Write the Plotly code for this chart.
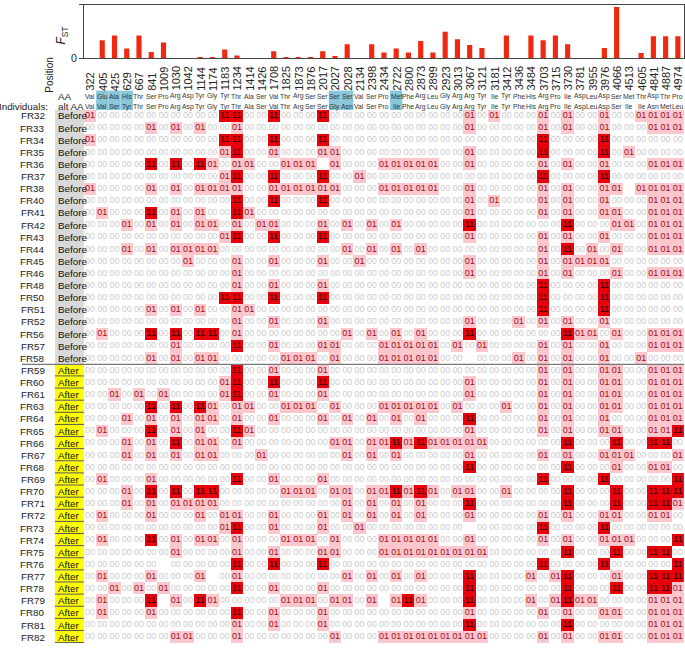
import plotly.graph_objects as go

# ---------------- data ----------------
positions = [322, 405, 425, 629, 667, 841, 1009, 1030, 1042, 1144, 1174, 1183, 1234,
             1414, 1426, 1708, 1825, 1873, 1876, 2017, 2027, 2028, 2134, 2398, 2434,
             2722, 2800, 2873, 2899, 2923, 3013, 3067, 3121, 3181, 3412, 3436, 3484,
             3703, 3715, 3730, 3781, 3955, 3976, 4066, 4513, 4605, 4841, 4887, 4974]

fst = [0.0, 0.051, 0.064, 0.028, 0.064, 0.018, 0.045, 0.001, 0.0, 0.004, 0.004, 0.025,
       0.008, 0.0, 0.0, 0.020, 0.004, 0.004, 0.004, 0.020, 0.007, 0.040, 0.0, 0.040,
       0.017, 0.028, 0.017, 0.049, 0.017, 0.075, 0.054, 0.038, 0.029, 0.0, 0.064, 0.0,
       0.064, 0.051, 0.064, 0.040, 0.0, 0.0, 0.029, 0.144, 0.0, 0.015, 0.062, 0.062, 0.062]

aa_ref = ["Val", "Glu", "Ala", "His", "Thr", "Ser", "Pro", "Arg", "Asp", "Tyr", "Gly", "Tyr",
          "Thr", "Ala", "Ser", "Val", "Thr", "Arg", "Ser", "Ser", "Ser", "Ser", "Val", "Ser",
          "Pro", "Met", "Phe", "Arg", "Leu", "Gly", "Arg", "Arg", "Tyr", "Ile", "Tyr", "Phe",
          "His", "Arg", "Pro", "Ile", "Asp", "Leu", "Asp", "Ser", "Met", "Thr", "Asp", "Thr", "Pro"]

aa_alt = ["Val", "Val", "Ser", "Tyr", "Thr", "Ser", "Pro", "Arg", "Asp", "Tyr", "Gly", "Tyr",
          "Thr", "Ala", "Ser", "Val", "Thr", "Arg", "Ser", "Ser", "Gly", "Asn", "Val", "Ser",
          "Pro", "Ile", "Phe", "Arg", "Leu", "Gly", "Arg", "Arg", "Tyr", "Ile", "Tyr", "Phe",
          "His", "Arg", "Pro", "Ile", "Asp", "Leu", "Asp", "Ser", "Ile", "Ile", "Asn", "Met", "Leu"]

highlight_positions = [405, 425, 629, 2027, 2028, 2722]

individuals_before = ["FR32", "FR33", "FR34", "FR35", "FR36", "FR37", "FR38", "FR40", "FR41",
                      "FR42", "FR43", "FR44", "FR45", "FR46", "FR48", "FR50", "FR51", "FR52",
                      "FR56", "FR57", "FR58"]
individuals_after = ["FR59", "FR60", "FR61", "FR63", "FR64", "FR65", "FR66", "FR67", "FR68",
                     "FR69", "FR70", "FR71", "FR72", "FR73", "FR74", "FR75", "FR76", "FR77",
                     "FR78", "FR79", "FR80", "FR81", "FR82"]

# genotype codes: 0 = "00", 1 = "01", 2 = "11", "." = missing
genotypes_before = [
    "1000000000" "0220020002" "0000000000" "0101000101" "001001111",  # FR32
    "0000010101" "0010000000" "0000000000" "0100000101" "001000111",  # FR33
    "1000000000" "0220020002" "0000000000" "0000000200" "002000000",  # FR34
    "0000000000" "0120010001" "1000000000" "0100000200" "002010000",  # FR35
    "0000020202" "101100111." "1000111110" "0100000101" "001000111",  # FR36
    "0000000000" "0120020002" "0010000000" "0000000200" "002000000",  # FR37
    "1000010101" "1110011111" "1000111110" "0100000101" "0011.1111",  # FR38
    "0000000000" "0020020002" "0000000000" "0101000101" "001000111",  # FR40
    "0100020101" "0021000000" "0000000000" "0100000101" "001100111",  # FR41
    "0001010101" "1010110001" "0101010000" "0200000002" "000110111",  # FR42
    "0000000000" "0120020002" "0000000000" "0100000101" "001000111",  # FR43
    "0001010111" "1000000000" "0101010100" "0000000102" "010100111",  # FR44
    "0000000010" "0010010001" "0010000000" "0100000101" "111000000",  # FR45
    "0000000000" "0010000000" "0000000000" "0100000101" "000100111",  # FR46
    "0000000000" "0010010001" "0000000000" "0000000200" "002000000",  # FR48
    "0000000000" "0220020002" "0000000000" "0000000200" "002000000",  # FR50
    "0000010101" "0011000000" "0000000000" "0000000200" "002000000",  # FR51
    "0000000000" "0010010001" "0000000000" "0100010101" "001000000",  # FR52
    "0100020202" "2010000000" "0101010100" "0200000002" "110100111",  # FR56
    "0000000100" "0020010001" "1000111110" "1010000101" "001000111",  # FR57
    "0000010101" "1000001110" "1000111110" "0.00010101" "001001000",  # FR58
]
genotypes_after = [
    "0000000000" "0020010001" "0000000000" "0000000101" "001100111",  # FR59
    "0000000000" "0120020002" "0000000000" "0100000101" "001100111",  # FR60
    "0010101000" "0120010001" "0000000000" "0100000101" "001100111",  # FR61
    "0000020202" "1011001110" "1000111110" "1000100101" "001100111",  # FR63
    "0001010101" "1010010001" "0101010100" "0200000101" "001000111",  # FR64
    "0100020101" "0021000000" "0000000000" "0100000101" "001100112",  # FR65
    "0001010201" "1010000000" "1101121211" "1110000002" "000200220",  # FR66
    "0001010101" "1000100000" "0101010000" "0100000101" "001110001",  # FR67
    "0000000000" "0000000000" "0000000000" "0200000002" "000100110",  # FR68
    "0100010000" "0020010001" "0000000000" "0000000200" "002000002",  # FR69
    "0001020202" "2000001110" "1101121210" "1100100002" "000200222",  # FR70
    "0001010111" "1000000000" "0101010100" "0200000002" "000200221",  # FR71
    "0100010001" "0110010001" "0101010100" "0100000101" "001100110",  # FR72
    "0000000000" "0120010001" "0010000000" "0.00000200" "002000000",  # FR73
    "0100020101" "1010001110" "1000111110" "0100000101" "001110002",  # FR74
    "0000000100" "0010010001" "1000111111" "1110000002" "000200220",  # FR75
    "000000.000" "0020020002" "0000000000" "0000000200" "002000002",  # FR76
    "0100010001" ".010000000" "0101010100" "0200001012" "000100222",  # FR77
    "0010101000" "0020010001" "0000000000" "0200000002" "000200221",  # FR78
    "010002.102" "1000001110" "1101.12100" "0200001012" "110000111",  # FR79
    "0100010000" "0020010001" "0000000000" "0100000101" "001100111",  # FR80
    "0000000000" "0010010001" "0000000000" "0200000002" "000000111",  # FR81
    "0000000110" "0010000000" "1000111111" "1110000101" "001100111",  # FR82
]

# ---------------- styling ----------------
W, H = 685, 650
FONT = "Liberation Sans, Arial, Helvetica, sans-serif"
BAR_RED = "#f0280f"
PINK = "#fbc6cc"
RED = "#e8000a"
BLUE = "#88c6da"
TEXT_COL = {"0": "#cccccc", "1": "#9e0f1f", "2": "#2a0000"}
TEXT_LBL = {"0": "00", "1": "01", "2": "11"}


def py(p):
    return 1 - p / H


def px(p):
    return p / W


individuals = individuals_before + individuals_after
genotypes = genotypes_before + genotypes_after
periods = ["Before"] * len(individuals_before) + ["After"] * len(individuals_after)
ncol = len(positions)
nrow = len(individuals)
cols = list(range(ncol))
rows = list(range(nrow))

z = []
tx, ty, tt, tc = [], [], [], []
for r, g in enumerate(genotypes):
    zr = []
    for c, ch in enumerate(g):
        if ch == ".":
            zr.append(None)
            continue
        zr.append(int(ch))
        tx.append(c)
        ty.append(r)
        tt.append(TEXT_LBL[ch])
        tc.append(TEXT_COL[ch])
    z.append(zr)

fig = go.Figure()

fig.add_trace(go.Bar(x=cols, y=fst, width=0.42, marker=dict(color=BAR_RED, line=dict(width=0)),
                     xaxis="x", yaxis="y", hoverinfo="skip"))

fig.add_trace(go.Heatmap(
    x=cols, y=rows, z=z, zmin=0, zmax=2, xaxis="x2", yaxis="y2",
    colorscale=[[0, "#ffffff"], [0.25, "#ffffff"], [0.25, PINK], [0.75, PINK],
                [0.75, RED], [1, RED]],
    showscale=False, hoverinfo="skip", xgap=0, ygap=0))

fig.add_trace(go.Scatter(
    x=tx, y=ty, text=tt, mode="text", xaxis="x2", yaxis="y2",
    textposition="middle center",
    textfont=dict(family=FONT, size=9, color=tc), hoverinfo="skip"))

shapes = []
ann = []

nb = len(individuals_before)
shapes.append(dict(type="rect", xref="paper", yref="y2", x0=px(55), x1=px(84),
                   y0=-0.5, y1=nb - 0.5, fillcolor="#d9d9d9", line=dict(width=0), layer="below"))
for r in range(nb, nrow):
    shapes.append(dict(type="rect", xref="paper", yref="y2", x0=px(55), x1=px(84),
                       y0=r - 0.5, y1=r + 0.5, fillcolor="#ffff00", line=dict(width=0),
                       layer="below"))
    shapes.append(dict(type="line", xref="paper", yref="y2", x0=px(55), x1=px(84),
                       y0=r + 0.45, y1=r + 0.45, line=dict(color="#555555", width=1)))
shapes.append(dict(type="line", xref="paper", yref="y2", x0=px(22), x1=1,
                   y0=nb - 0.5, y1=nb - 0.5, line=dict(color="#777777", width=1.2)))

for p in highlight_positions:
    i = positions.index(p)
    shapes.append(dict(type="rect", xref="x", yref="paper", x0=i - 0.5, x1=i + 0.5,
                       y0=py(113), y1=py(91.5), fillcolor=BLUE, line=dict(width=0),
                       layer="below"))

for i, p in enumerate(positions):
    ann.append(dict(x=i, y=py(93.5), xref="x", yref="paper", text=str(p), textangle=-90,
                    xanchor="center", yanchor="bottom", showarrow=False,
                    font=dict(family=FONT, size=11, color="#222")))
    ann.append(dict(x=i, y=py(97.3), xref="x", yref="paper", text=aa_ref[i],
                    xanchor="center", yanchor="middle", showarrow=False,
                    font=dict(family=FONT, size=6.8, color="#333")))
    ann.append(dict(x=i, y=py(107.7), xref="x", yref="paper", text=aa_alt[i],
                    xanchor="center", yanchor="middle", showarrow=False,
                    font=dict(family=FONT, size=6.8, color="#333")))

for r, name in enumerate(individuals):
    ann.append(dict(x=px(47.5), y=r, xref="paper", yref="y2", text=name, xanchor="right",
                    yanchor="middle", showarrow=False,
                    font=dict(family=FONT, size=9.8, color="#222")))
    ann.append(dict(x=px(56), y=r, xref="paper", yref="y2", text=periods[r], xanchor="left",
                    yanchor="middle", showarrow=False,
                    font=dict(family=FONT, size=9.8, color="#111")))

ann.append(dict(x=px(50), y=py(107.7), xref="paper", yref="paper", text="Individuals:",
                xanchor="right", yanchor="middle", showarrow=False,
                font=dict(family=FONT, size=9.8, color="#222")))
ann.append(dict(x=px(56), y=py(97.3), xref="paper", yref="paper", text="AA",
                xanchor="left", yanchor="middle", showarrow=False,
                font=dict(family=FONT, size=9.8, color="#222")))
ann.append(dict(x=px(56), y=py(107.7), xref="paper", yref="paper", text="alt AA",
                xanchor="left", yanchor="middle", showarrow=False,
                font=dict(family=FONT, size=9.8, color="#222")))
ann.append(dict(x=px(49.5), y=py(75), xref="paper", yref="paper", text="Position",
                textangle=-90, xanchor="center", yanchor="middle", showarrow=False,
                font=dict(family=FONT, size=10, color="#222")))
ann.append(dict(x=px(62), y=py(36), xref="paper", yref="paper",
                text="<i>F</i><sub>ST</sub>", textangle=-90, xanchor="center",
                yanchor="middle", showarrow=False,
                font=dict(family=FONT, size=12, color="#222")))

xdom = [px(84), 1.0]
fig.update_layout(
    width=W, height=H, autosize=False,
    margin=dict(l=0, r=0, t=0, b=0),
    paper_bgcolor="white", plot_bgcolor="white",
    showlegend=False, hovermode=False,
    font=dict(family=FONT, color="#222"),
    xaxis=dict(domain=xdom, range=[-0.5, ncol - 0.5], anchor="y", showline=True,
               linecolor="#444", linewidth=1, mirror=True, ticks="", showticklabels=False,
               showgrid=False, zeroline=False, fixedrange=True),
    yaxis=dict(domain=[py(59), py(5)], range=[0, 0.15], anchor="x",
               tickvals=[0, 0.15], ticktext=["0", "0.15"], ticks="outside", ticklen=4,
               tickcolor="#444", showline=True, linecolor="#444", linewidth=1, mirror=True,
               showgrid=False, zeroline=False, tickfont=dict(family=FONT, size=10.5, color="#222")),
    xaxis2=dict(domain=xdom, range=[-0.5, ncol - 0.5], anchor="y2", visible=False,
                showgrid=False, zeroline=False),
    yaxis2=dict(domain=[py(649.2), py(110.9)], range=[nrow - 0.5, -0.5], anchor="x2",
                visible=False, showgrid=False, zeroline=False),
    shapes=shapes,
    annotations=ann,
)

fig.write_html(
    "out.html",
    config={"displayModeBar": False, "staticPlot": True},
    post_script="document.body.style.margin='0';document.body.style.padding='0';"
                "document.documentElement.style.overflow='hidden';",
)
